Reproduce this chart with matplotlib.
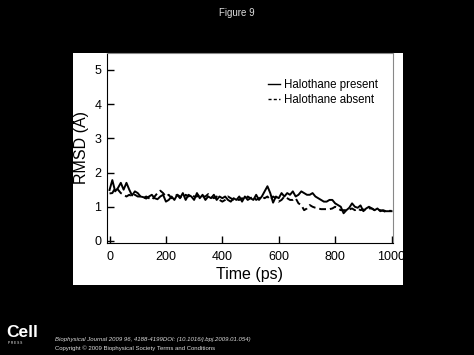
import matplotlib.pyplot as plt
from matplotlib.lines import Line2D
from matplotlib.patches import Rectangle

plt.rcParams['font.family'] = ['Liberation Sans', 'DejaVu Sans']

# time axis (ps)
time_ps = list(range(0, 1001, 10))

# RMSD with halothane present (solid)
rmsd_present = [1.49, 1.78, 1.45, 1.55, 1.7, 1.5, 1.7, 1.5, 1.33, 1.45,
                1.4, 1.3, 1.28, 1.24, 1.3, 1.35, 1.25, 1.22, 1.3, 1.35,
                1.15, 1.2, 1.3, 1.2, 1.35, 1.25, 1.4, 1.2, 1.35, 1.3,
                1.2, 1.4, 1.25, 1.35, 1.2, 1.3, 1.25, 1.35, 1.2, 1.3,
                1.25, 1.3, 1.2, 1.15, 1.25, 1.2, 1.3, 1.15, 1.3, 1.2,
                1.25, 1.2, 1.35, 1.2, 1.3, 1.45, 1.6, 1.4, 1.12, 1.3,
                1.25, 1.4, 1.3, 1.4, 1.35, 1.45, 1.3, 1.35, 1.45, 1.4,
                1.35, 1.35, 1.4, 1.3, 1.25, 1.2, 1.15, 1.15, 1.2, 1.2,
                1.1, 1.05, 1.0, 0.81, 0.9, 0.97, 1.1, 1.0, 0.97, 1.04,
                0.87, 0.95, 1.0, 0.95, 0.9, 0.95, 0.87, 0.9, 0.87, 0.87,
                0.87]

# RMSD with halothane absent (dashed)
rmsd_absent = [1.39, 1.4, 1.55, 1.5, 1.4, 1.35, 1.3, 1.35, 1.3, 1.35,
               1.3, 1.3, 1.25, 1.3, 1.25, 1.2, 1.3, 1.4, 1.47, 1.4,
               1.3, 1.35, 1.25, 1.3, 1.35, 1.3, 1.25, 1.35, 1.3, 1.35,
               1.3, 1.3, 1.35, 1.3, 1.3, 1.37, 1.3, 1.25, 1.3, 1.2,
               1.15, 1.2, 1.3, 1.25, 1.2, 1.2, 1.2, 1.25, 1.2, 1.3,
               1.25, 1.3, 1.2, 1.25, 1.3, 1.25, 1.3, 1.2, 1.3, 1.25,
               1.15, 1.2, 1.3, 1.25, 1.2, 1.2, 1.25, 1.1, 1.05, 0.9,
               0.95, 1.05, 1.0, 0.97, 0.95, 0.93, 0.93, 0.93, 0.93, 0.95,
               1.0, 0.95, 0.9, 0.9, 0.9, 0.92, 0.95, 0.9, 0.95, 0.9,
               0.92, 0.9, 0.95, 0.95, 0.9, 0.92, 0.9, 0.88, 0.85, 0.88,
               0.88]

x_ticks = [0, 200, 400, 600, 800, 1000]
y_ticks = [0, 1, 2, 3, 4, 5]
labels = ["Halothane present", "Halothane absent"]

fig = plt.figure(figsize=(4.74, 3.55), dpi=100, facecolor="black")

# white panel behind the plot
fig.patches.append(Rectangle((0.154, 0.197), 0.696, 0.654, transform=fig.transFigure,
                             facecolor="white", edgecolor="none", zorder=-10))

ax = fig.add_axes([0.2257, 0.3155, 0.6033, 0.5355])
ax.set_zorder(5)
ax.set_facecolor("white")

ax.plot(time_ps, rmsd_present, color="black", lw=1.4)
ax.plot(time_ps, rmsd_absent, color="black", lw=1.4, ls=(0, (3.5, 2)))

ax.set_xlim(-9, 1005)
ax.set_ylim(-0.06, 5.5)
ax.set_xticks(x_ticks)
ax.set_yticks(y_ticks)
ax.tick_params(direction="in", length=5, width=1, labelsize=9, colors="black")
ax.tick_params(axis="x", pad=6)
ax.tick_params(axis="y", pad=4)
for s in ["left", "bottom"]:
    ax.spines[s].set_color("black")
for s in ["top", "right"]:
    ax.spines[s].set_color("#888888")

ax.set_xlabel("Time (ps)", fontsize=11.5, labelpad=3)
ax.set_ylabel("RMSD (Å)", fontsize=11.5, labelpad=4)

# legend handles look like "—" and "---"
handles = [Line2D([], [], color="black", lw=1.0),
           Line2D([], [], color="black", lw=1.0, ls=(0, (2.2, 1.6)))]
ax.legend(handles, labels, loc="upper right", bbox_to_anchor=(0.965, 0.885), frameon=False,
          fontsize=8.3, handlelength=1.1, handletextpad=0.35, labelspacing=0.25, borderaxespad=0)

fig.text(0.5, 0.962, "Figure 9", color="#dddddd", fontsize=7, ha="center", va="center")

# footer
fig.text(0.013, 0.062, "Cell", color="white", fontsize=12.5, fontweight="bold", ha="left", va="center")
fig.text(0.017, 0.033, "P R E S S", color="white", fontsize=2.3, ha="left", va="center")
fig.text(0.116, 0.043, "Biophysical Journal 2009 96, 4188-4199DOI: (10.1016/j.bpj.2009.01.054)",
         color="#dddddd", fontsize=4.35, ha="left", va="center", style="italic")
fig.text(0.116, 0.018, "Copyright © 2009 Biophysical Society", color="#dddddd",
         fontsize=4.35, ha="left", va="center")
fig.text(0.331, 0.018, "Terms and Conditions", color="#dddddd", fontsize=4.35,
         ha="left", va="center")

fig.savefig("out.png", dpi=100, facecolor="black")
